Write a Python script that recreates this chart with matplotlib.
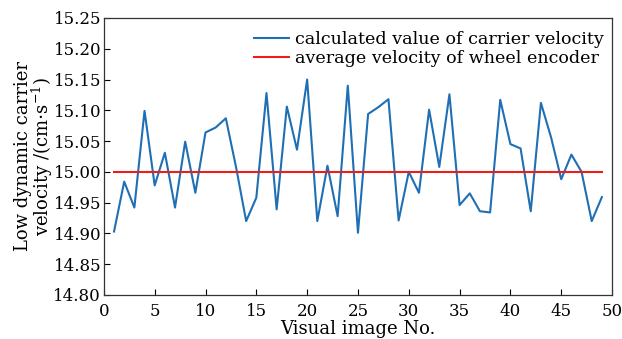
import numpy as np
import matplotlib.pyplot as plt

plt.rcParams['font.family'] = 'DejaVu Serif'
plt.rcParams['mathtext.fontset'] = 'dejavuserif'

# image number and velocity
img_no = np.arange(1, 50)
velocity = [14.903, 14.984, 14.942, 15.099, 14.978, 15.031, 14.942, 15.049, 14.966, 15.064,
            15.072, 15.087, 15.008, 14.920, 14.958, 15.128, 14.939, 15.106, 15.036, 15.150,
            14.920, 15.010, 14.928, 15.140, 14.901, 15.094, 15.105, 15.118, 14.921, 15.000,
            14.966, 15.101, 15.008, 15.126, 14.946, 14.965, 14.936, 14.934, 15.117, 15.045,
            15.038, 14.936, 15.112, 15.056, 14.988, 15.028, 15.000, 14.920, 14.959]
avg_encoder = 15.00

fig = plt.figure(figsize=(6.22, 3.39), dpi=100)
ax = fig.add_axes([0.167, 0.13, 0.817, 0.817])

ax.plot(img_no, velocity, color='#1f6fb4', lw=1.5, label='calculated value of carrier velocity')
ax.plot(img_no, [avg_encoder]*len(img_no), color='#ee1c1c', lw=1.5,
        label='average velocity of wheel encoder')

ax.set_xlim(0, 50)
ax.set_ylim(14.80, 15.25)
ax.set_xticks(np.arange(0, 51, 5))
ax.set_yticks(np.arange(14.80, 15.26, 0.05))
ax.set_yticklabels(['%.2f' % v for v in np.arange(14.80, 15.26, 0.05)])
ax.tick_params(direction='in', length=4, labelsize=12, pad=2)
ax.tick_params(axis='x', pad=6)
for s in ax.spines.values():
    s.set_linewidth(0.9)
    s.set_color('#333333')

ax.set_xlabel('Visual image No.', fontsize=13, labelpad=0)
ax.set_ylabel('Low dynamic carrier\nvelocity /(cm$\\cdot$s$^{-1}$)', fontsize=13,
              linespacing=0.85, labelpad=-1)

ax.legend(loc='upper right', bbox_to_anchor=(1.0, 0.985), frameon=False, fontsize=12.6,
          handlelength=2.0, handletextpad=0.3, labelspacing=0.15, borderaxespad=0.1)

plt.savefig('out.png', dpi=100)
